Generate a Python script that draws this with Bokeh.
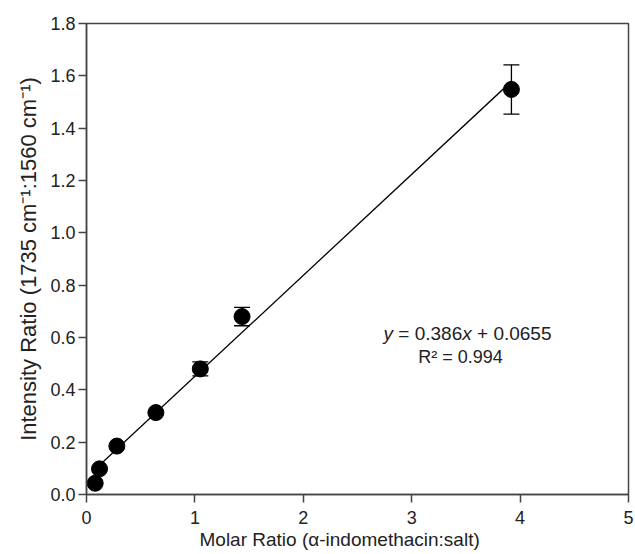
from bokeh.plotting import figure
from bokeh.models import (Whisker, TeeHead, ColumnDataSource, Label, FixedTicker,
                          NumeralTickFormatter, Range1d, Title)
from bokeh.embed import file_html
from bokeh.resources import INLINE

# data
molar_ratio = [0.08, 0.12, 0.28, 0.64, 1.05, 1.435, 3.92]
intensity_ratio = [0.043, 0.098, 0.185, 0.313, 0.48, 0.68, 1.548]
error = [0.0, 0.0, 0.0, 0.0, 0.027, 0.035, 0.094]
slope = 0.386
intercept = 0.0655
fit_x = [0.07, 3.92]
x_ticks = [0, 1, 2, 3, 4, 5]
y_ticks = [0.0, 0.2, 0.4, 0.6, 0.8, 1.0, 1.2, 1.4, 1.6, 1.8]
y_title = "Intensity Ratio (1735 cm⁻¹:1560 cm⁻¹)"
x_title = "Molar Ratio (α-indomethacin:salt)"

FONT = "Liberation Sans"
TXT = "#222222"

p = figure(width=635, height=550, output_backend="svg", toolbar_location=None,
           x_range=Range1d(0, 5), y_range=Range1d(0, 1.8),
           min_border_left=86, min_border_right=7, min_border_top=23, min_border_bottom=56)
p.frame_width = 542
p.frame_height = 471
p.grid.visible = False
p.outline_line_color = "#444444"
p.outline_line_width = 1.5
p.background_fill_color = "white"
p.border_fill_color = "white"

for ax in (p.xaxis[0], p.yaxis[0]):
    ax.axis_line_color = "#444444"
    ax.axis_line_width = 1.5
    ax.major_tick_line_color = "#444444"
    ax.major_tick_line_width = 1.5
    ax.major_tick_out = 8
    ax.major_tick_in = 0
    ax.minor_tick_line_color = None
    ax.major_label_text_font = FONT
    ax.major_label_text_font_size = "18px"
    ax.major_label_text_color = TXT

p.xaxis.ticker = FixedTicker(ticks=x_ticks)
p.yaxis.ticker = FixedTicker(ticks=y_ticks)
p.yaxis.formatter = NumeralTickFormatter(format="0.0")
p.xaxis.major_label_standoff = 8
p.yaxis.major_label_standoff = 3

# axis titles as side titles, so they can be shifted along the axis
p.add_layout(Title(text=x_title, align="left", offset=113, text_font=FONT,
                   text_font_style="normal", text_font_size="19px", text_color=TXT,
                   standoff=0), "below")
p.add_layout(Title(text=y_title, align="center", offset=0, text_font=FONT,
                   text_font_style="normal", text_font_size="22px", text_color=TXT,
                   standoff=13), "left")

# fit line
fit_y = [slope * x + intercept for x in fit_x]
p.line(fit_x, fit_y, line_color="black", line_width=1.3)

# error bars
err_x = [x for x, e in zip(molar_ratio, error) if e > 0]
err_lo = [y - e for y, e in zip(intensity_ratio, error) if e > 0]
err_hi = [y + e for y, e in zip(intensity_ratio, error) if e > 0]
src_err = ColumnDataSource(dict(x=err_x, lo=err_lo, hi=err_hi))
w = Whisker(source=src_err, base="x", lower="lo", upper="hi", line_color="black", line_width=1.3,
            upper_head=TeeHead(size=16, line_color="black", line_width=1.3),
            lower_head=TeeHead(size=16, line_color="black", line_width=1.3))
p.add_layout(w)

p.scatter(molar_ratio, intensity_ratio, size=16, fill_color="black", line_color="black")

# equation annotation, pieces with italic variables
eq_x, eq_y = 2.74, 0.615
pieces = [("y", "italic", 0), ("= 0.386", "normal", 14.8), ("x", "italic", 78.7), ("+ 0.0655", "normal", 93.5)]
for txt, style, off in pieces:
    p.add_layout(Label(x=eq_x, y=eq_y, x_offset=off, text=txt, text_font=FONT,
                       text_font_style=style, text_font_size="19px", text_color=TXT,
                       text_align="left", text_baseline="middle"))
p.add_layout(Label(x=3.45, y=0.524, text="R² = 0.994", text_font=FONT,
                   text_font_size="18px", text_color=TXT, text_align="center",
                   text_baseline="middle"))

open("out.html", "w").write(file_html(p, INLINE))
